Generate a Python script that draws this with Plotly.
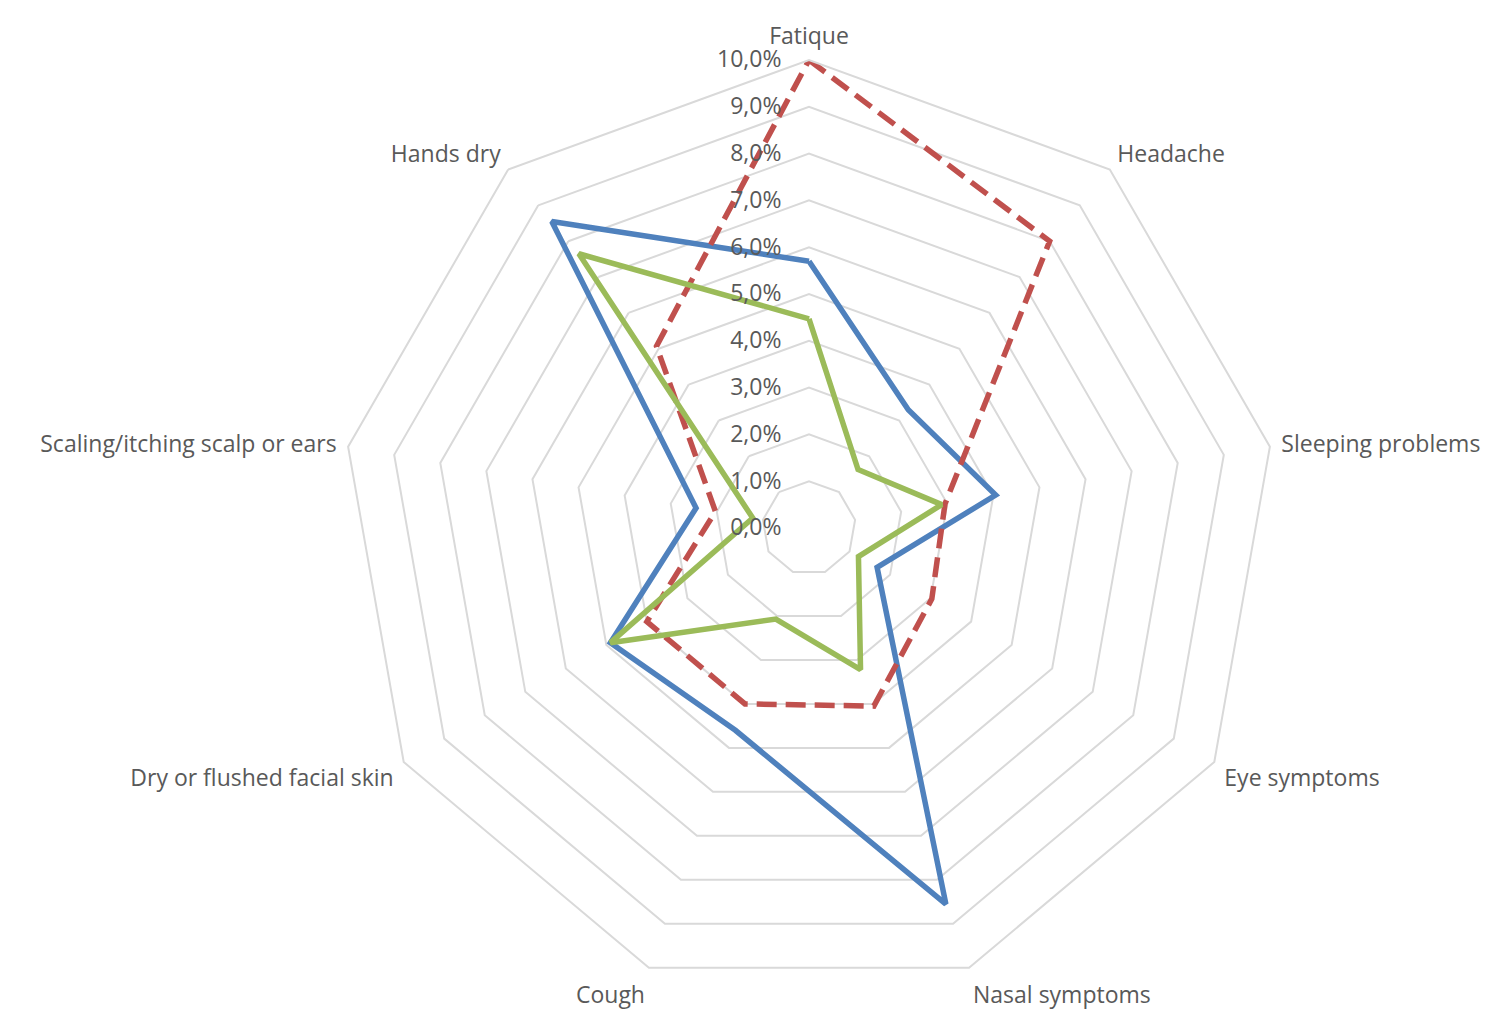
import plotly.graph_objects as go

categories = ["Fatique", "Headache", "Sleeping problems", "Eye symptoms",
              "Nasal symptoms", "Cough", "Dry or flushed facial skin",
              "Scaling/itching scalp or ears", "Hands dry"]

# values in percent
series_blue = [5.7, 3.3, 4.05, 1.68, 8.55, 4.6, 4.9, 2.45, 8.55]
series_red = [10.0, 8.0, 2.95, 3.03, 4.05, 4.0, 4.0, 2.03, 5.07]
series_green = [4.47, 1.63, 2.88, 1.22, 3.22, 2.07, 4.9, 1.22, 7.65]

tick_vals = [i / 100 for i in range(0, 11)]

def closed(v):
    return [x / 100 for x in v] + [v[0] / 100]

theta = categories + [categories[0]]

FONT = "Open Sans"
FS = 23
TXT = "#595959"

fig = go.Figure()
fig.add_trace(go.Scatterpolar(r=closed(series_blue), theta=theta, mode="lines",
                              line=dict(color="#4F81BD", width=5.5), showlegend=False))
fig.add_trace(go.Scatterpolar(r=closed(series_red), theta=theta, mode="lines",
                              line=dict(color="#C0504D", width=5.5, dash="20px,9px"), showlegend=False))
fig.add_trace(go.Scatterpolar(r=closed(series_green), theta=theta, mode="lines",
                              line=dict(color="#9BBB59", width=5.5), showlegend=False))

fig.update_layout(
    width=1506, height=1009,
    paper_bgcolor="white", plot_bgcolor="white",
    separators=", ",
    margin=dict(l=96, r=0, t=52, b=21),
    font=dict(family=FONT, size=FS, color=TXT),
    polar=dict(
        bgcolor="white",
        gridshape="linear",
        radialaxis=dict(range=[0, 0.10], tickvals=tick_vals, tickformat=".1%",
                        angle=90, tickangle=90, side="counterclockwise",
                        showline=False, ticks="outside", ticklen=19, tickcolor="rgba(0,0,0,0)",
                        gridcolor="#D9D9D9", gridwidth=2,
                        tickfont=dict(family=FONT, size=FS, color=TXT)),
        angularaxis=dict(direction="clockwise", rotation=90, showline=True,
                         linecolor="#D9D9D9", linewidth=2, showgrid=False,
                         ticks="outside", ticklen=6, tickcolor="rgba(0,0,0,0)",
                         tickfont=dict(family=FONT, size=FS, color=TXT)),
    ),
)

fig.write_html("out.html")
